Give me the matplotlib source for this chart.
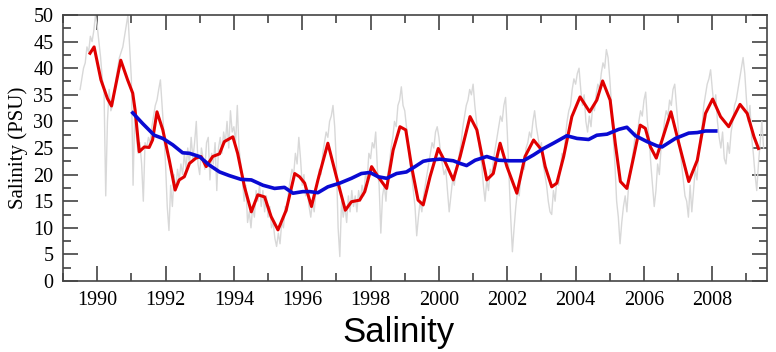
import numpy as np
import matplotlib.pyplot as plt
from matplotlib.ticker import MultipleLocator

# raw salinity (grey), sampled every 0.05 yr from 1989.5 to 2009.5
raw_start = 1989.5
raw_step = 0.05
raw_vals = (
    [36, 38, 40, 41, 44, 43, 46, 45, 47, 50] +
    [48, 45, 42, 38, 36, 16, 30, 36, 32, 33, 35, 38, 40, 42, 43, 44, 46, 48, 50, 44] +
    [38, 18, 32, 27, 24, 26, 22, 15, 26, 25, 27, 26, 29, 31, 33, 34, 36, 37.8, 33, 28] +
    [22, 14, 9.5, 18, 14, 20, 17, 21, 19, 22, 20, 24, 21, 25, 22, 27, 23, 26, 30, 22] +
    [20, 25, 23, 21, 26, 27, 19, 24, 22, 26, 17, 25, 27, 24, 28, 26, 30, 25, 32, 28] +
    [29, 26, 33, 25, 22, 19, 15, 18, 11, 13, 10, 14, 12, 17, 15, 18, 14, 17, 13, 16] +
    [12, 14, 10, 11, 8, 6.5, 9, 7, 11, 10, 14, 13, 17, 19, 21, 20, 24, 22, 27, 23] +
    [18, 20, 16, 17, 14, 12, 15, 13, 17, 19, 21, 20, 24, 26, 28, 27, 30, 31, 33, 29] +
    [22, 10, 4.6, 15, 12, 14, 11, 16, 13, 17, 14, 16, 13, 17, 15, 18, 16, 20, 19, 24] +
    [23, 26, 25, 28, 21, 18, 9, 16, 18, 15, 20, 22, 25, 27, 30, 29, 33, 34, 36.5, 33] +
    [32, 29, 26, 22, 20, 17, 14, 8.5, 12, 15, 13, 16, 18, 20, 22, 24, 26, 25, 28, 29] +
    [27, 24, 22, 20, 21, 17, 13, 16, 19, 18, 21, 22, 24, 26, 29, 31, 33, 34, 36, 35] +
    [37, 33, 30, 27, 24, 22, 18, 15, 19, 17, 21, 20, 23, 25, 27, 29, 31, 30, 33, 34.5] +
    [28, 20, 12, 5.5, 10, 14, 17, 16, 20, 22, 21, 25, 26, 28, 27, 30, 32, 29, 27, 25] +
    [26, 22, 20, 18, 15, 13, 12.5, 17, 15, 19, 18, 21, 24, 23, 27, 30, 32, 33, 36, 38] +
    [37, 39, 40, 36, 33, 35, 30, 28, 31, 29, 33, 32, 35, 37, 36, 39, 41, 40, 43.5, 42] +
    [38, 33, 27, 22, 15, 12, 7, 11, 14, 16, 13, 18, 20, 23, 25, 28, 27, 30, 32, 31] +
    [34, 35.5, 30, 27, 22, 18, 14, 17, 22, 20, 25, 27, 30, 32, 31, 34, 33, 36, 37, 33] +
    [29, 25, 22, 19, 16, 15, 12, 18, 13, 17, 21, 19, 24, 27, 29, 33, 35, 37, 38, 39.7] +
    [36, 33, 35, 30, 27, 25, 28, 23, 22, 26, 24, 28, 30, 33, 34, 36, 38, 40, 42, 39] +
    [34, 30, 33, 27, 24, 20, 17, 22, 26, 30, 25]
)
raw_years = raw_start + raw_step * np.arange(len(raw_vals))

# smoothed (red)
smooth_years = [1989.79, 1989.91, 1990.11, 1990.30, 1990.42, 1990.69, 1990.89, 1991.04,
                1991.11, 1991.23, 1991.38, 1991.52, 1991.62, 1991.75, 1991.92, 1992.11,
                1992.28, 1992.40, 1992.55, 1992.70, 1992.89, 1993.04, 1993.19, 1993.38,
                1993.58, 1993.72, 1993.97, 1994.11, 1994.31, 1994.51, 1994.70, 1994.90,
                1995.09, 1995.29, 1995.53, 1995.78, 1995.92, 1996.07, 1996.27, 1996.46,
                1996.75, 1997.00, 1997.26, 1997.44, 1997.68, 1997.83, 1998.03, 1998.22,
                1998.47, 1998.66, 1998.86, 1999.03, 1999.20, 1999.39, 1999.54, 1999.74,
                1999.98, 2000.18, 2000.42, 2000.62, 2000.91, 2001.11, 2001.40, 2001.59,
                2001.79, 2001.99, 2002.28, 2002.52, 2002.77, 2003.01, 2003.11, 2003.30,
                2003.45, 2003.65, 2003.89, 2004.13, 2004.41, 2004.62, 2004.79, 2005.01,
                2005.16, 2005.31, 2005.50, 2005.70, 2005.89, 2006.04, 2006.19, 2006.36,
                2006.53, 2006.79, 2007.02, 2007.31, 2007.56, 2007.80, 2008.01, 2008.24,
                2008.48, 2008.81, 2009.02, 2009.22, 2009.35]
smooth_vals = [42.8, 44.0, 37.8, 34.3, 32.9, 41.5, 37.8, 35.3,
               32.1, 24.3, 25.2, 25.1, 26.5, 31.8, 28.4, 22.7,
               17.1, 19.0, 19.6, 22.1, 23.1, 23.4, 21.5, 23.4,
               23.9, 26.2, 27.1, 24.0, 17.7, 13.0, 16.2, 15.8,
               12.1, 9.6, 13.3, 20.2, 19.6, 18.4, 14.0, 19.0,
               25.9, 19.6, 13.3, 14.9, 15.2, 16.8, 21.5, 19.6,
               17.4, 24.6, 29.0, 28.4, 21.5, 15.2, 14.3, 19.6,
               24.9, 22.4, 19.0, 23.4, 30.9, 28.4, 19.0, 20.2,
               25.9, 21.5, 16.5, 23.4, 26.5, 24.6, 21.5, 17.7,
               18.4, 23.4, 30.9, 34.6, 31.8, 34.0, 37.6, 34.0,
               25.9, 18.7, 17.4, 23.4, 29.3, 28.7, 25.2, 23.1,
               26.5, 31.8, 25.9, 18.7, 22.7, 31.5, 34.2, 30.9,
               29.0, 33.2, 31.5, 27.1, 24.9]

# long-term trend (blue)
trend_years = [1991.04, 1991.33, 1991.67, 1991.92, 1992.21, 1992.50, 1992.70, 1992.99,
               1993.28, 1993.58, 1993.87, 1994.21, 1994.51, 1994.85, 1995.19, 1995.48,
               1995.73, 1996.02, 1996.22, 1996.46, 1996.75, 1997.10, 1997.44, 1997.73,
               1997.98, 1998.22, 1998.47, 1998.76, 1999.05, 1999.30, 1999.54, 1999.69,
               2000.03, 2000.42, 2000.62, 2000.81, 2001.06, 2001.40, 2001.74, 2002.08,
               2002.47, 2002.77, 2003.06, 2003.35, 2003.74, 2004.04, 2004.38, 2004.62,
               2004.92, 2005.26, 2005.50, 2005.75, 2006.09, 2006.38, 2006.53, 2006.92,
               2007.31, 2007.56, 2007.80, 2008.10]
trend_vals = [31.6, 29.6, 27.4, 26.8, 25.6, 24.1, 24.0, 23.4,
              21.8, 20.5, 19.8, 19.1, 19.0, 18.0, 17.4, 17.6,
              16.5, 16.8, 16.8, 16.6, 17.7, 18.4, 19.3, 20.2,
              20.4, 19.6, 19.3, 20.2, 20.5, 21.5, 22.5, 22.7,
              22.9, 22.6, 22.1, 21.7, 22.7, 23.4, 22.7, 22.6,
              22.6, 23.7, 24.9, 25.9, 27.3, 26.8, 26.6, 27.4,
              27.6, 28.5, 28.9, 27.3, 26.2, 25.4, 25.2, 26.8,
              27.8, 27.9, 28.2, 28.2]

plt.rcParams['font.family'] = ['Liberation Serif', 'DejaVu Serif']

fig = plt.figure(figsize=(7.76, 3.52), dpi=100)
ax = fig.add_axes([0.0812, 0.2017, 0.9072, 0.7557])

ax.plot(raw_years, raw_vals, color='#d8d8d8', lw=1.0)
ax.plot(smooth_years, smooth_vals, color='#e00000', lw=2.2, solid_joinstyle='round')
ax.plot(trend_years, trend_vals, color='#0a0ad2', lw=2.6, solid_joinstyle='round')

ax.set_xlim(1989, 2009.6)
ax.set_ylim(0, 50)
ax.xaxis.set_major_locator(MultipleLocator(2))
ax.xaxis.set_minor_locator(MultipleLocator(1))
ax.yaxis.set_major_locator(MultipleLocator(5))
ax.yaxis.set_minor_locator(MultipleLocator(2.5))
ax.tick_params(which='both', direction='in', top=True, right=True,
               color='#333333', width=1.1, labelsize=14.5, pad=7)
ax.tick_params(which='major', length=11)
ax.tick_params(which='minor', length=6)
for s in ax.spines.values():
    s.set_color('#444444')
    s.set_linewidth(1.2)

ax.set_ylabel('Salinity (PSU)', fontsize=15, labelpad=4)

fig.text(0.5135, 0.028, 'Salinity', family='Liberation Sans', fontsize=25,
         ha='center', va='baseline')

fig.savefig('out.png', dpi=100)
